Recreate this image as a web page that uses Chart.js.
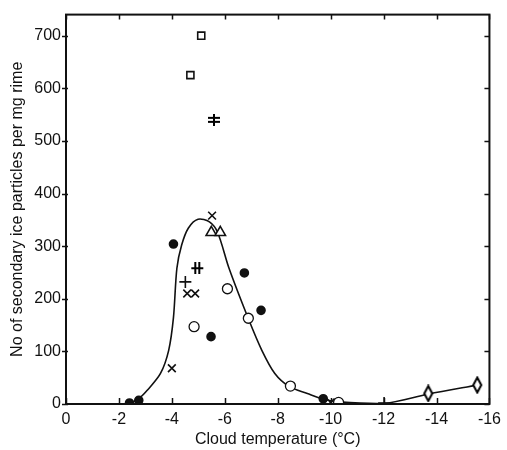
<!DOCTYPE html>
<html>
<head>
<meta charset="utf-8">
<script src="https://cdn.jsdelivr.net/npm/chart.js@4"></script>
<style>
  html, body { margin: 0; padding: 0; background: #fff; }
  #wrap { width: 507px; height: 450px; }
</style>
</head>
<body>
<div id="wrap"><canvas id="chart" width="507" height="450"></canvas></div>
<script>
// fitted curve
const curveTemp = [-2.4, -2.7, -3.07, -3.57, -3.88, -4.06, -4.19, -4.37, -4.62, -4.99, -5.42, -5.73, -6.16, -6.9, -7.4, -7.89, -8.44, -9.12, -9.74, -10.3, -12.0, -13.7, -15.55];
const curveCount = [2, 8, 26, 58, 102, 164, 258, 302, 334, 351, 346, 326, 258, 161, 102, 58, 33, 20, 9, 4, 1, 19, 36];

// markers
const squarePts = [[-5.11, 700], [-4.70, 625]];
const hashPts = [[-5.59, 540], [-4.96, 258]];
const xPts = [[-5.52, 358], [-4.58, 210], [-4.88, 210], [-4.0, 68], [-10.0, 3]];
const plusPts = [[-4.51, 232], [-12.02, 2]];
const trianglePts = [[-5.49, 326], [-5.83, 326]];
const dotPts = [[-4.06, 304], [-6.74, 249], [-7.37, 178], [-5.48, 128], [-9.72, 10], [-2.4, 2], [-2.75, 7]];
const ringPts = [[-6.10, 219], [-6.89, 163], [-4.84, 147], [-8.48, 34], [-10.3, 3]];
const diamondPts = [[-13.69, 20], [-15.54, 36]];

const xTicks = [0, -2, -4, -6, -8, -10, -12, -14, -16];
const yTicks = [0, 100, 200, 300, 400, 500, 600, 700];

const ink = '#111';
const toXY = pts => pts.map(p => ({ x: p[0], y: p[1] }));

function glyph(w, h, draw) {
    const c = document.createElement('canvas');
    c.width = w; c.height = h;
    const g = c.getContext('2d');
    g.strokeStyle = '#000'; g.fillStyle = '#fff'; g.lineWidth = 2;
    draw(g, w, h);
    return c;
}

// double-bar crosses
const hashH = glyph(14, 12, (g) => {
    g.beginPath();
    g.moveTo(7, 0); g.lineTo(7, 12);
    g.moveTo(1, 4); g.lineTo(13, 4);
    g.moveTo(1, 8); g.lineTo(13, 8);
    g.stroke();
});
const hashV = glyph(14, 12, (g) => {
    g.beginPath();
    g.moveTo(5, 0); g.lineTo(5, 12);
    g.moveTo(9, 0); g.lineTo(9, 12);
    g.moveTo(1, 6); g.lineTo(13, 6);
    g.stroke();
});
const diamond = glyph(12, 18, (g) => {
    g.beginPath();
    g.moveTo(6, 1.5); g.lineTo(10, 9); g.lineTo(6, 16.5); g.lineTo(2, 9); g.closePath();
    g.fill(); g.stroke();
});

function markers(label, pts, style, extra) {
    return Object.assign({
        type: 'scatter', label, data: toXY(pts), pointStyle: style,
        borderColor: ink, backgroundColor: ink, pointBorderWidth: 1.6, pointRadius: 5, order: 1
    }, extra || {});
}

const frame = {
    id: 'frame',
    afterDraw(chart) {
        const { ctx, chartArea: a, scales: { x, y } } = chart;
        ctx.save();
        ctx.strokeStyle = ink;
        ctx.lineWidth = 2;
        ctx.strokeRect(a.left, a.top, a.right - a.left, a.bottom - a.top);
        ctx.lineWidth = 1.5;
        ctx.beginPath();
        xTicks.forEach(v => {
            const px = Math.round(x.getPixelForValue(v)) + 0.5;
            ctx.moveTo(px, a.bottom); ctx.lineTo(px, a.bottom - 6);
            ctx.moveTo(px, a.top); ctx.lineTo(px, a.top + 5);
        });
        yTicks.forEach(v => {
            const py = Math.round(y.getPixelForValue(v)) + 0.5;
            ctx.moveTo(a.left - 4, py); ctx.lineTo(a.left + 2, py);
            ctx.moveTo(a.right, py); ctx.lineTo(a.right - 5, py);
        });
        ctx.stroke();
        ctx.restore();
    }
};

new Chart(document.getElementById('chart'), {
    data: {
        datasets: [
            markers('squares', squarePts, 'rect', { backgroundColor: '#fff', pointRadius: 5 }),
            markers('hash', hashPts, [hashH, hashV]),
            markers('x', xPts, 'crossRot', { pointRadius: 5.5 }),
            markers('plus', plusPts, 'cross', { pointRadius: 6 }),
            markers('triangles', trianglePts, 'triangle', { backgroundColor: '#fff', pointRadius: 6 }),
            markers('dots', dotPts, 'circle', { pointRadius: 4 }),
            markers('rings', ringPts, 'circle', { backgroundColor: '#fff', pointRadius: 5, pointBorderWidth: 1.3 }),
            markers('diamonds', diamondPts, diamond),
            {
                type: 'line', label: 'curve',
                data: curveTemp.map((t, i) => ({ x: t, y: curveCount[i] })),
                borderColor: ink, borderWidth: 1.6, pointRadius: 0,
                tension: 0.3, fill: false, order: 10
            }
        ]
    },
    plugins: [frame],
    options: {
        responsive: false,
        animation: false,
        layout: { padding: { left: 0, right: 8, top: 12, bottom: 0 } },
        plugins: { legend: { display: false }, tooltip: { enabled: false } },
        scales: {
            x: {
                type: 'linear', min: -16, max: 0, reverse: true,
                afterFit: s => { s.height = 46; },
                afterBuildTicks: s => { s.ticks = xTicks.map(v => ({ value: v })); },
                grid: { display: false, drawTicks: false },
                border: { display: false },
                ticks: { color: '#111', padding: 6, maxRotation: 0, autoSkip: false,
                         font: { family: 'Liberation Sans', size: 16 }, callback: v => String(v) },
                title: { display: true, text: 'Cloud temperature (°C)', color: '#111',
                         padding: { top: 0, bottom: 1 }, font: { family: 'Liberation Sans', size: 16 } }
            },
            y: {
                type: 'linear', min: 0, max: 740,
                afterFit: s => { s.width = 66; },
                afterBuildTicks: s => { s.ticks = yTicks.map(v => ({ value: v })); },
                grid: { display: false, drawTicks: false },
                border: { display: false },
                ticks: { color: '#111', padding: 5, autoSkip: false,
                         font: { family: 'Liberation Sans', size: 16 } },
                title: { display: true, text: 'No of secondary ice particles per mg rime', color: '#111',
                         padding: { top: 8, bottom: 0 }, font: { family: 'Liberation Sans', size: 16 } }
            }
        }
    }
});
</script>
</body>
</html>
